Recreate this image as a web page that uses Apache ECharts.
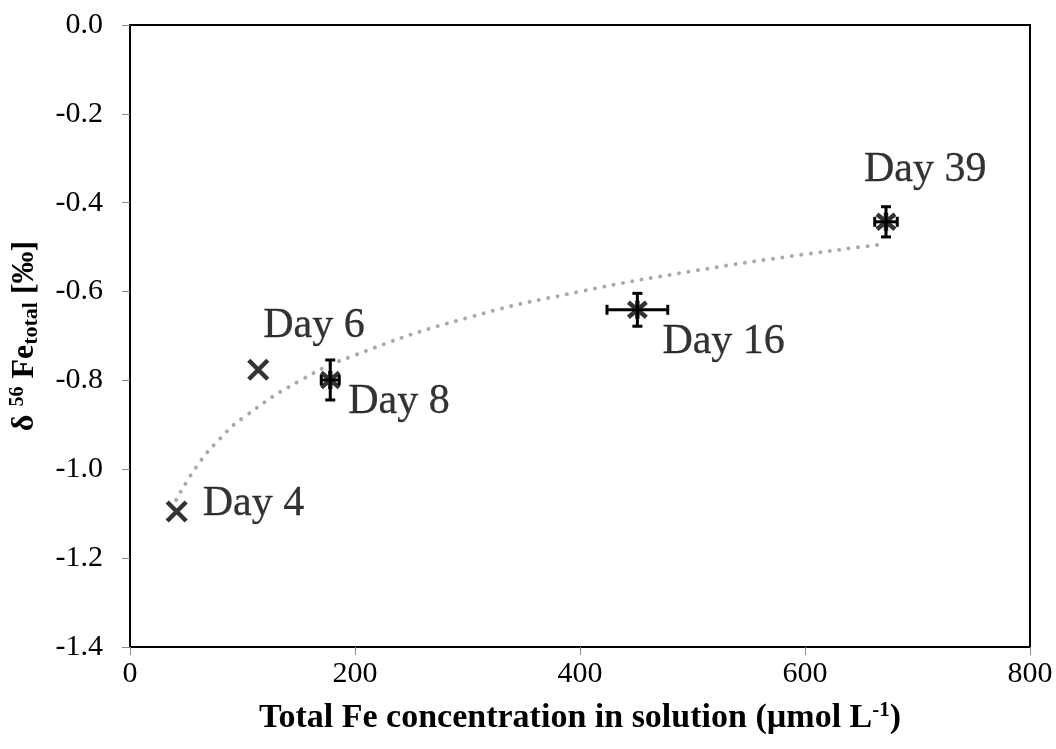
<!DOCTYPE html>
<html>
<head>
<meta charset="utf-8">
<script src="https://cdn.jsdelivr.net/npm/echarts@6/dist/echarts.min.js"></script>
<style>
html,body{margin:0;padding:0;background:#fff;}
#chart{width:1056px;height:749px;}
</style>
</head>
<body>
<div id="chart"></div>
<script>
// ---- data ----
const dayLabels = ['Day 4', 'Day 6', 'Day 8', 'Day 16', 'Day 39'];
const feConc = [41.5, 114, 178, 451, 672];          // µmol/L
const delta56 = [-1.095, -0.776, -0.799, -0.641, -0.443]; // ‰
const feErr = [0, 0, 8, 27, 10];
const deltaErr = [0, 0, 0.045, 0.037, 0.034];
const markerKind = ['x', 'x', 'star', 'star', 'star'];
// dotted trend curve
const trendX = [41, 60, 80, 100, 150, 200, 300, 400, 500, 600, 672];
const trendY = [-1.069, -0.991, -0.931, -0.885, -0.802, -0.743, -0.659, -0.600, -0.554, -0.516, -0.493];
const xTicks = {min: 0, max: 800, interval: 200};
const yTicks = {min: -1.4, max: 0, interval: 0.2};

// ---- styling helpers ----
const FONT = '"Liberation Serif","Times New Roman",serif';
const symX = 'path://M0,0L10,10M10,0L0,10';
const symStar = 'path://M0,0L10,10M10,0L0,10M5,-1L5,11';
const labelOffsets = {
  'Day 4': [26, -8], 'Day 6': [5, -44], 'Day 8': [18, 22], 'Day 16': [25, 32], 'Day 39': [-22, -52]
};

const chart = echarts.init(document.getElementById('chart'));

const pointData = feConc.map((x, i) => ({
  value: [x, delta56[i]],
  name: dayLabels[i],
  symbol: markerKind[i] === 'x' ? symX : symStar,
  symbolSize: markerKind[i] === 'x' ? 19 : 18,
  label: {
    show: true, formatter: dayLabels[i], position: 'inside',
    align: 'left', verticalAlign: 'middle',
    offset: labelOffsets[dayLabels[i]],
    fontFamily: FONT, fontSize: 42, color: '#000',
    textBorderColor: '#000', textBorderWidth: 0.3
  }
}));

const errData = feConc.map((x, i) => [x, delta56[i], feErr[i], deltaErr[i]]);

chart.setOption({
  animation: false,
  backgroundColor: '#fff',
  grid: {left: 130, right: 26, top: 25, bottom: 102, containLabel: false, outerBoundsMode: 'none',
    show: true, borderColor: '#000', borderWidth: 2},
  xAxis: {
    type: 'value', min: xTicks.min, max: xTicks.max, interval: xTicks.interval,
    axisLine: {show: false, onZero: false},
    axisTick: {show: true, length: 8, lineStyle: {color: '#888', width: 1}},
    splitLine: {show: false},
    axisLabel: {fontFamily: FONT, fontSize: 30, color: '#000', margin: 12},
    name: '{b|Total Fe concentration in solution (µmol L}{sup|-1}{b|)}',
    nameLocation: 'middle', nameGap: 51,
    nameTextStyle: {
      fontFamily: FONT, fontWeight: 'bold', fontSize: 34, color: '#000', lineHeight: 40,
      rich: {
        b: {fontFamily: FONT, fontWeight: 'bold', fontSize: 34, color: '#000', lineHeight: 40},
        sup: {fontFamily: FONT, fontWeight: 'bold', fontSize: 21, color: '#000', lineHeight: 40, padding: [0, 0, 14, 0]}
      }
    }
  },
  yAxis: {
    type: 'value', min: yTicks.min, max: yTicks.max, interval: yTicks.interval,
    axisLine: {show: false, onZero: false},
    axisTick: {show: true, length: 8, lineStyle: {color: '#888', width: 1}},
    splitLine: {show: false},
    axisLabel: {fontFamily: FONT, fontSize: 30, color: '#000', margin: 27,
      formatter: v => v.toFixed(1)},
    name: '{b|δ }{sup|56}{b| Fe}{sub|total}{b| [‰]}',
    nameLocation: 'middle', nameGap: 84, nameRotate: 90,
    nameTextStyle: {
      fontFamily: FONT, fontWeight: 'bold', fontSize: 32, color: '#000', lineHeight: 40,
      rich: {
        b: {fontFamily: FONT, fontWeight: 'bold', fontSize: 32, color: '#000', lineHeight: 40},
        sup: {fontFamily: FONT, fontSize: 20, color: '#000', lineHeight: 40, padding: [0, 0, 14, 0]},
        sub: {fontFamily: FONT, fontWeight: 'bold', fontSize: 22, color: '#000', lineHeight: 40, padding: [14, 0, 0, 0]}
      }
    }
  },
  series: [
    {
      type: 'line', data: trendX.map((x, i) => [x, trendY[i]]),
      smooth: true, showSymbol: false, silent: true, z: 1,
      lineStyle: {color: '#aaaaaa', width: 4, type: [0.01, 9.5], cap: 'round'}
    },
    {
      type: 'custom', z: 3,
      data: errData,
      renderItem: function (params, api) {
        const x = api.value(0), y = api.value(1), xe = api.value(2), ye = api.value(3);
        const c = api.coord([x, y]);
        const children = [];
        const st = {stroke: '#000', lineWidth: 3};
        const cap = 5;
        if (xe > 0) {
          const l = api.coord([x - xe, y]), r = api.coord([x + xe, y]);
          children.push({type: 'line', shape: {x1: l[0], y1: c[1], x2: r[0], y2: c[1]}, style: st});
          children.push({type: 'line', shape: {x1: l[0], y1: c[1] - cap, x2: l[0], y2: c[1] + cap}, style: st});
          children.push({type: 'line', shape: {x1: r[0], y1: c[1] - cap, x2: r[0], y2: c[1] + cap}, style: st});
        }
        if (ye > 0) {
          const t = api.coord([x, y + ye]), b = api.coord([x, y - ye]);
          children.push({type: 'line', shape: {x1: c[0], y1: t[1], x2: c[0], y2: b[1]}, style: st});
          children.push({type: 'line', shape: {x1: c[0] - cap, y1: t[1], x2: c[0] + cap, y2: t[1]}, style: st});
          children.push({type: 'line', shape: {x1: c[0] - cap, y1: b[1], x2: c[0] + cap, y2: b[1]}, style: st});
        }
        return {type: 'group', children: children};
      }
    },
    {
      type: 'scatter', z: 4, data: pointData,
      itemStyle: {color: '#000', borderColor: '#000', borderWidth: 4.5}
    }
  ]
});
</script>
</body>
</html>
